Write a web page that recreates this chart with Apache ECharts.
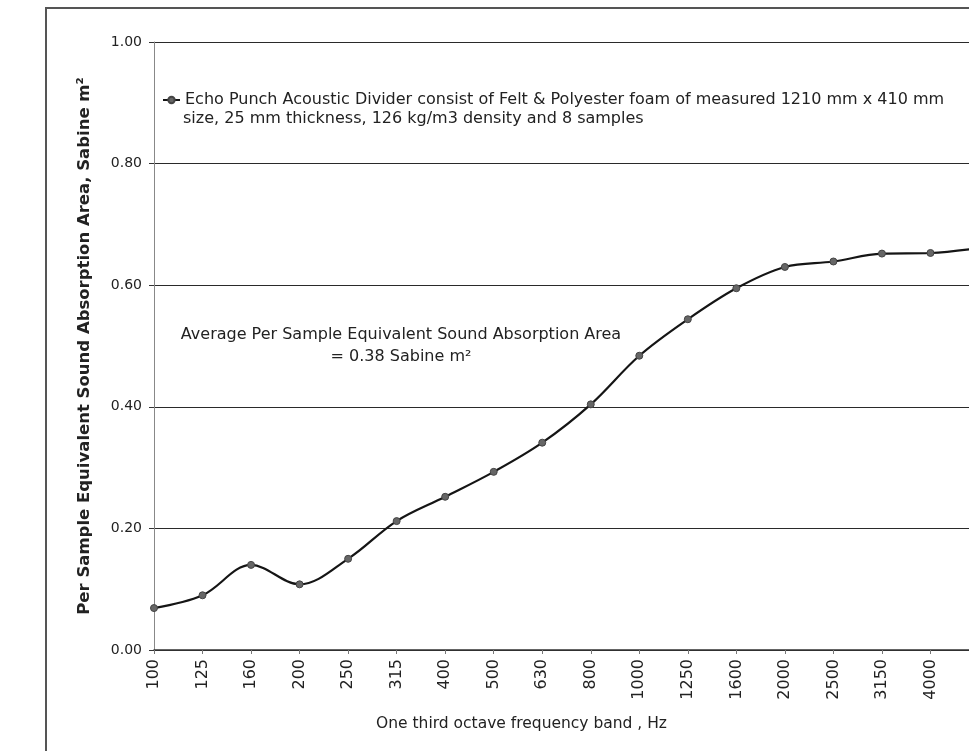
<!DOCTYPE html>
<html>
<head>
<meta charset="utf-8">
<script src="https://cdn.jsdelivr.net/npm/echarts@6/dist/echarts.min.js"></script>
<style>
html,body{margin:0;padding:0;background:#fff;}
#chart{width:969px;height:751px;}
</style>
</head>
<body>
<div id="chart"></div>
<script>
// ---- data ----
const categories = ['100','125','160','200','250','315','400','500','630','800','1000','1250','1600','2000','2500','3150','4000','5000'];
const absorption = [0.069, 0.090, 0.140, 0.108, 0.150, 0.212, 0.252, 0.293, 0.341, 0.404, 0.484, 0.544, 0.595, 0.630, 0.639, 0.652, 0.653, 0.661];
const yTicks = [0.00, 0.20, 0.40, 0.60, 0.80, 1.00];
const seriesLine1 = 'Echo Punch Acoustic Divider consist of Felt & Polyester foam of measured 1210 mm x 410 mm';
const seriesLine2 = 'size, 25 mm thickness, 126 kg/m3 density and 8 samples';
const avgLine1 = 'Average Per Sample Equivalent Sound Absorption Area';
const avgLine2 = '= 0.38 Sabine m\u00B2';
const xTitle = 'One third octave frequency band , Hz';
const yTitle = 'Per Sample Equivalent Sound Absorption Area, Sabine m\u00B2';

const FONT = 'DejaVu Sans';
const chart = echarts.init(document.getElementById('chart'), null, {renderer: 'canvas'});

const option = {
  backgroundColor: '#ffffff',
  animation: false,
  grid: {left: 154, top: 42, bottom: 101, right: -10, containLabel: false, outerBoundsMode: 'none'},
  legend: {
    show: true,
    left: 157,
    top: 87,
    itemWidth: 17,
    itemHeight: 8,
    data: [{name: seriesLine1}],
    textStyle: {fontFamily: FONT, fontSize: 16, color: '#222'}
  },
  xAxis: {
    type: 'category',
    data: categories,
    boundaryGap: false,
    axisLine: {lineStyle: {color: '#333', width: 1.5}},
    axisTick: {show: true, length: 4, lineStyle: {color: '#777'}},
    axisLabel: {rotate: 90, fontFamily: FONT, fontSize: 16, color: '#222', margin: 9},
    splitLine: {show: false},
    name: xTitle,
    nameLocation: 'middle',
    nameGap: 66,
    nameTextStyle: {fontFamily: FONT, fontSize: 15.5, color: '#222', padding: [0, 90, 0, 0]}
  },
  yAxis: {
    type: 'value',
    min: 0,
    max: 1,
    interval: 0.2,
    axisLine: {show: true, lineStyle: {color: '#888', width: 1}},
    axisTick: {show: true, length: 5, lineStyle: {color: '#333'}},
    axisLabel: {fontFamily: FONT, fontSize: 14, color: '#222', margin: 12,
      formatter: function (v) { return v.toFixed(2); }},
    splitLine: {show: true, lineStyle: {color: '#2a2a2a', width: 1}},
    name: yTitle,
    nameLocation: 'middle',
    nameGap: 61,
    nameTextStyle: {fontFamily: FONT, fontSize: 16.5, fontWeight: 'bold', color: '#222'}
  },
  series: [{
    name: seriesLine1,
    type: 'line',
    data: absorption,
    smooth: 0.35,
    symbol: 'circle',
    symbolSize: 7,
    showSymbol: true,
    clip: true,
    lineStyle: {color: '#151515', width: 2.2},
    itemStyle: {color: '#666', borderColor: '#444', borderWidth: 1}
  }],
  graphic: [
    {type: 'rect', shape: {x: 46, y: 8, width: 1000, height: 800}, style: {fill: 'none', stroke: '#555', lineWidth: 2}, silent: true, z: -1},
    {type: 'text', x: 183, y: 119, style: {text: seriesLine2, fontFamily: FONT, fontSize: 16, fill: '#222', align: 'left', verticalAlign: 'middle'}},
    {type: 'text', x: 401, y: 335, style: {text: avgLine1, fontFamily: FONT, fontSize: 16, fill: '#222', align: 'center', verticalAlign: 'middle'}},
    {type: 'text', x: 401, y: 357, style: {text: avgLine2, fontFamily: FONT, fontSize: 16, fill: '#222', align: 'center', verticalAlign: 'middle'}}
  ]
};
chart.setOption(option);
</script>
</body>
</html>
